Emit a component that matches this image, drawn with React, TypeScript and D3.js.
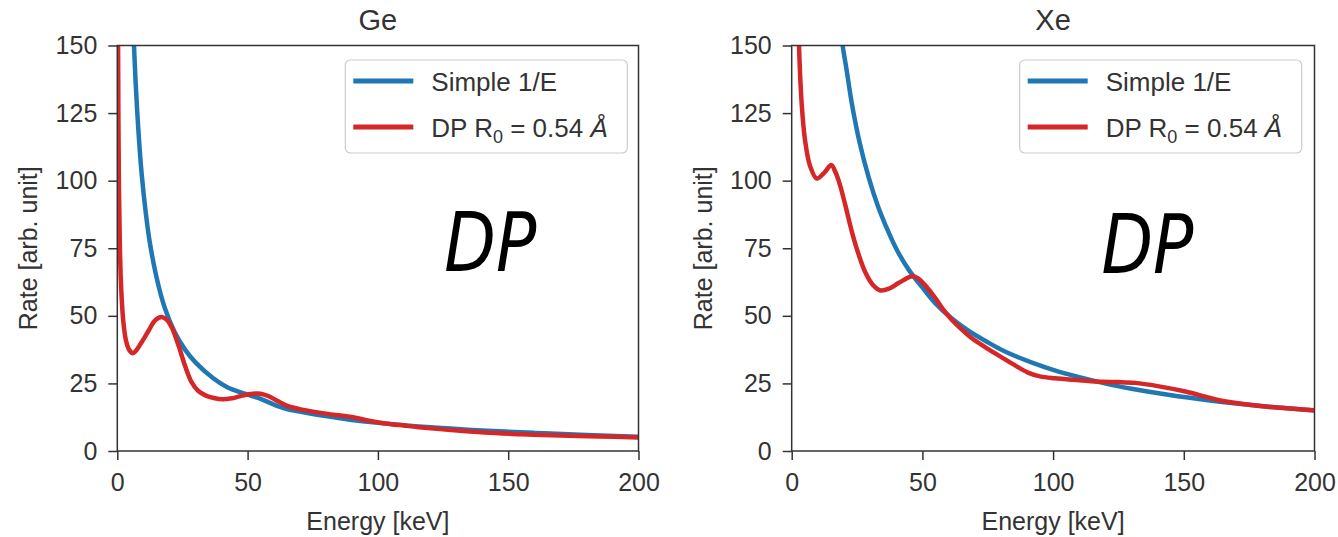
import React, { useEffect, useRef } from "react";
import * as d3 from "d3";

// ---- data ----
const ENERGY_TICKS = [0, 50, 100, 150, 200];
const RATE_TICKS = [0, 25, 50, 75, 100, 125, 150];
const ENERGY_DOMAIN = [0, 200];
const RATE_DOMAIN = [0, 150];
const PANEL_TITLES = ["Ge", "Xe"];
const LEGEND_SIMPLE = "Simple 1/E";

// Ge: simple 1/E  [energy keV, rate]
const geSimple: [number, number][] = [
  [6.0, 160], [6.4, 150], [7, 137], [8, 120], [9.3, 103], [11, 87.5], [12.5, 77],
  [15, 64.5], [18.2, 53], [22, 44], [26, 37.5], [30, 32.8], [36.7, 27], [42, 23.7],
  [49.5, 21], [55, 19.3], [60, 17.2], [64.7, 15.6], [70, 14.6], [80, 12.9], [90, 11.5],
  [100, 10.4], [120, 8.8], [140, 7.6], [160, 6.7], [180, 5.9], [200, 5.3],
];
// Ge: DP R0 = 0.54 Å
const geDP: [number, number][] = [
  [0.25, 160], [0.3, 150], [0.6, 100], [1.0, 75], [1.5, 60], [2.3, 48], [3.3, 41],
  [4.5, 37.5], [6.1, 36.2], [7.5, 37.5], [9.5, 40.5], [12, 44.5], [14.5, 48.3],
  [16.9, 49.6], [19, 48.5], [21, 45.5], [23.5, 39], [26, 31.5], [28.5, 25.5],
  [31, 22.3], [34, 20.5], [37, 19.6], [40.5, 19.1], [44, 19.5], [48, 20.5],
  [52, 21.2], [55, 21.2], [58, 20.3], [61.5, 18.5], [65, 16.8], [70, 15.5],
  [77.4, 14.2], [84, 13.3], [90, 12.6], [96, 11.3], [102.9, 10.2], [110, 9.4],
  [115.7, 8.8], [125, 8.0], [141, 6.8], [155, 6.2], [166.6, 5.8], [185, 5.4], [200, 5.0],
];
// Xe: simple 1/E
const xeSimple: [number, number][] = [
  [18.5, 160], [19.5, 150], [21, 141], [23.1, 128], [26, 114], [29.5, 101], [33, 90.5],
  [35.9, 83.5], [40, 74.8], [44.8, 67], [50, 60.5], [55.1, 54.5], [61.5, 48.8],
  [67.3, 44.7], [75, 40.2], [82, 36.6], [93, 32.3], [100, 30], [110, 27.3],
  [118.6, 25.3], [130, 23], [144, 20.8], [160, 18.7], [170, 17.6], [185, 16.2], [200, 15],
];
// Xe: DP R0 = 0.54 Å
const xeDP: [number, number][] = [
  [2.6, 160], [2.8, 150], [3.85, 128], [5.1, 115], [7, 105.5], [9.6, 100.8],
  [12.5, 103], [15.1, 105.8], [16.8, 103], [18.6, 98], [21, 89], [23.1, 80.8],
  [25.5, 73], [28.2, 66], [31, 61.5], [34, 59.4], [37.5, 60.2], [41, 62.2],
  [46.2, 64.6], [48.5, 63.8], [51.3, 61], [55, 56.5], [58, 52.3], [61.5, 48.3],
  [65, 45], [69.2, 41.5], [73.7, 38.6], [78, 36], [84, 32.5], [90.4, 29],
  [95, 27.6], [100.6, 26.9], [110, 26.2], [118.6, 25.6], [125, 25.5], [131.4, 25.2],
  [140, 24], [150.6, 22], [163.5, 18.8], [172, 17.5], [182.7, 16.3], [192, 15.6], [200, 15.1],
];

const SIMPLE_SERIES = [geSimple, xeSimple];
const DP_SERIES = [geDP, xeDP];
// handwritten "DP" annotation anchor [energy, rate]
const DP_NOTE: [number, number][] = [[125.5, 66.5], [118.5, 66]];

// ---- layout / style ----
const W = 1338;
const H = 537;
const PLOT_TOP = 45.5;
const PLOT_BOTTOM = 451;
const PANEL_X = [
  [117.3, 638.5],
  [791.7, 1314.5],
];
const BLUE = "#1f77b4";
const RED = "#d62728";
const INK = "#333333";
const FONT = "'Liberation Sans', Arial, Helvetica, sans-serif";

export default function App() {
  const ref = useRef<SVGSVGElement | null>(null);

  useEffect(() => {
    const svg = d3.select(ref.current);
    svg.selectAll("*").remove();
    svg.append("rect").attr("width", W).attr("height", H).attr("fill", "white");

    PANEL_TITLES.forEach((title, i) => {
      const [x0, x1] = PANEL_X[i];
      const x = d3.scaleLinear().domain(ENERGY_DOMAIN).range([x0, x1]);
      const y = d3.scaleLinear().domain(RATE_DOMAIN).range([PLOT_BOTTOM, PLOT_TOP]);
      const g = svg.append("g");
      const clipId = `clip-${i}`;
      g.append("clipPath")
        .attr("id", clipId)
        .append("rect")
        .attr("x", x0)
        .attr("y", PLOT_TOP)
        .attr("width", x1 - x0)
        .attr("height", PLOT_BOTTOM - PLOT_TOP);

      const line = d3
        .line<[number, number]>()
        .x((d) => x(d[0]))
        .y((d) => y(d[1]))
        .curve(d3.curveCatmullRom.alpha(0.5));

      const lines = g.append("g").attr("clip-path", `url(#${clipId})`);
      lines
        .append("path")
        .attr("d", line(SIMPLE_SERIES[i]) as string)
        .attr("fill", "none")
        .attr("stroke", BLUE)
        .attr("stroke-width", 4.5)
        .attr("stroke-linejoin", "round");
      lines
        .append("path")
        .attr("d", line(DP_SERIES[i]) as string)
        .attr("fill", "none")
        .attr("stroke", RED)
        .attr("stroke-width", 4.5)
        .attr("stroke-linejoin", "round");

      // frame
      g.append("rect")
        .attr("x", x0)
        .attr("y", PLOT_TOP)
        .attr("width", x1 - x0)
        .attr("height", PLOT_BOTTOM - PLOT_TOP)
        .attr("fill", "none")
        .attr("stroke", INK)
        .attr("stroke-width", 1.5);

      // axes
      const ax = g
        .append("g")
        .attr("transform", `translate(0,${PLOT_BOTTOM})`)
        .call(
          d3.axisBottom(x).tickValues(ENERGY_TICKS).tickSize(9).tickPadding(13).tickFormat(d3.format("d"))
        );
      const ay = g
        .append("g")
        .attr("transform", `translate(${x0},0)`)
        .call(
          d3.axisLeft(y).tickValues(RATE_TICKS).tickSize(9).tickPadding(11).tickFormat(d3.format("d"))
        );
      [ax, ay].forEach((a) => {
        a.select(".domain").remove();
        a.selectAll("line").attr("stroke", INK).attr("stroke-width", 1.5);
        a.selectAll("text")
          .attr("fill", INK)
          .style("font-family", FONT)
          .style("font-size", "25px");
      });

      // title
      g.append("text")
        .attr("x", (x0 + x1) / 2)
        .attr("y", 30)
        .attr("text-anchor", "middle")
        .attr("fill", INK)
        .style("font-family", FONT)
        .style("font-size", "29px")
        .text(title);

      // axis labels
      g.append("text")
        .attr("x", (x0 + x1) / 2)
        .attr("y", 530)
        .attr("text-anchor", "middle")
        .attr("fill", INK)
        .style("font-family", FONT)
        .style("font-size", "25px")
        .text("Energy [keV]");
      g.append("text")
        .attr("transform", `translate(${x0 - 80},${(PLOT_TOP + PLOT_BOTTOM) / 2}) rotate(-90)`)
        .attr("text-anchor", "middle")
        .attr("fill", INK)
        .style("font-family", FONT)
        .style("font-size", "25px")
        .text("Rate [arb. unit]");

      // legend
      const lg = g.append("g").attr("transform", `translate(${x0 + 228},60)`);
      lg.append("rect")
        .attr("width", 282)
        .attr("height", 93)
        .attr("rx", 5)
        .attr("fill", "white")
        .attr("fill-opacity", 0.85)
        .attr("stroke", "#cccccc")
        .attr("stroke-width", 1.2);
      [BLUE, RED].forEach((c, k) => {
        lg.append("line")
          .attr("x1", 8)
          .attr("x2", 68)
          .attr("y1", 21 + k * 46)
          .attr("y2", 21 + k * 46)
          .attr("stroke", c)
          .attr("stroke-width", 5);
      });
      lg.append("text")
        .attr("x", 86)
        .attr("y", 31)
        .attr("fill", INK)
        .style("font-family", FONT)
        .style("font-size", "26px")
        .text(LEGEND_SIMPLE);
      const t2 = lg
        .append("text")
        .attr("x", 86)
        .attr("y", 77)
        .attr("fill", INK)
        .style("font-family", FONT)
        .style("font-size", "26px");
      t2.append("tspan").text("DP R");
      t2.append("tspan").attr("dy", 6).style("font-size", "18px").text("0");
      t2.append("tspan").attr("dy", -6).text(" = 0.54 ");
      t2.append("tspan").style("font-style", "italic").text("Å");

      // handwritten DP note
      const [ne, nr] = DP_NOTE[i];
      g.append("text")
        .attr("x", x(ne))
        .attr("y", y(nr))
        .attr("fill", "black")
        .attr("textLength", 92)
        .attr("lengthAdjust", "spacingAndGlyphs")
        .style("font-family", "'DejaVu Sans', sans-serif")
        .style("font-style", "italic")
        .style("font-size", "82px")
        .text("DP");
    });
  }, []);

  return (
    <svg
      ref={ref}
      width={W}
      height={H}
      style={{ position: "absolute", left: 0, top: 0, display: "block" }}
    />
  );
}
